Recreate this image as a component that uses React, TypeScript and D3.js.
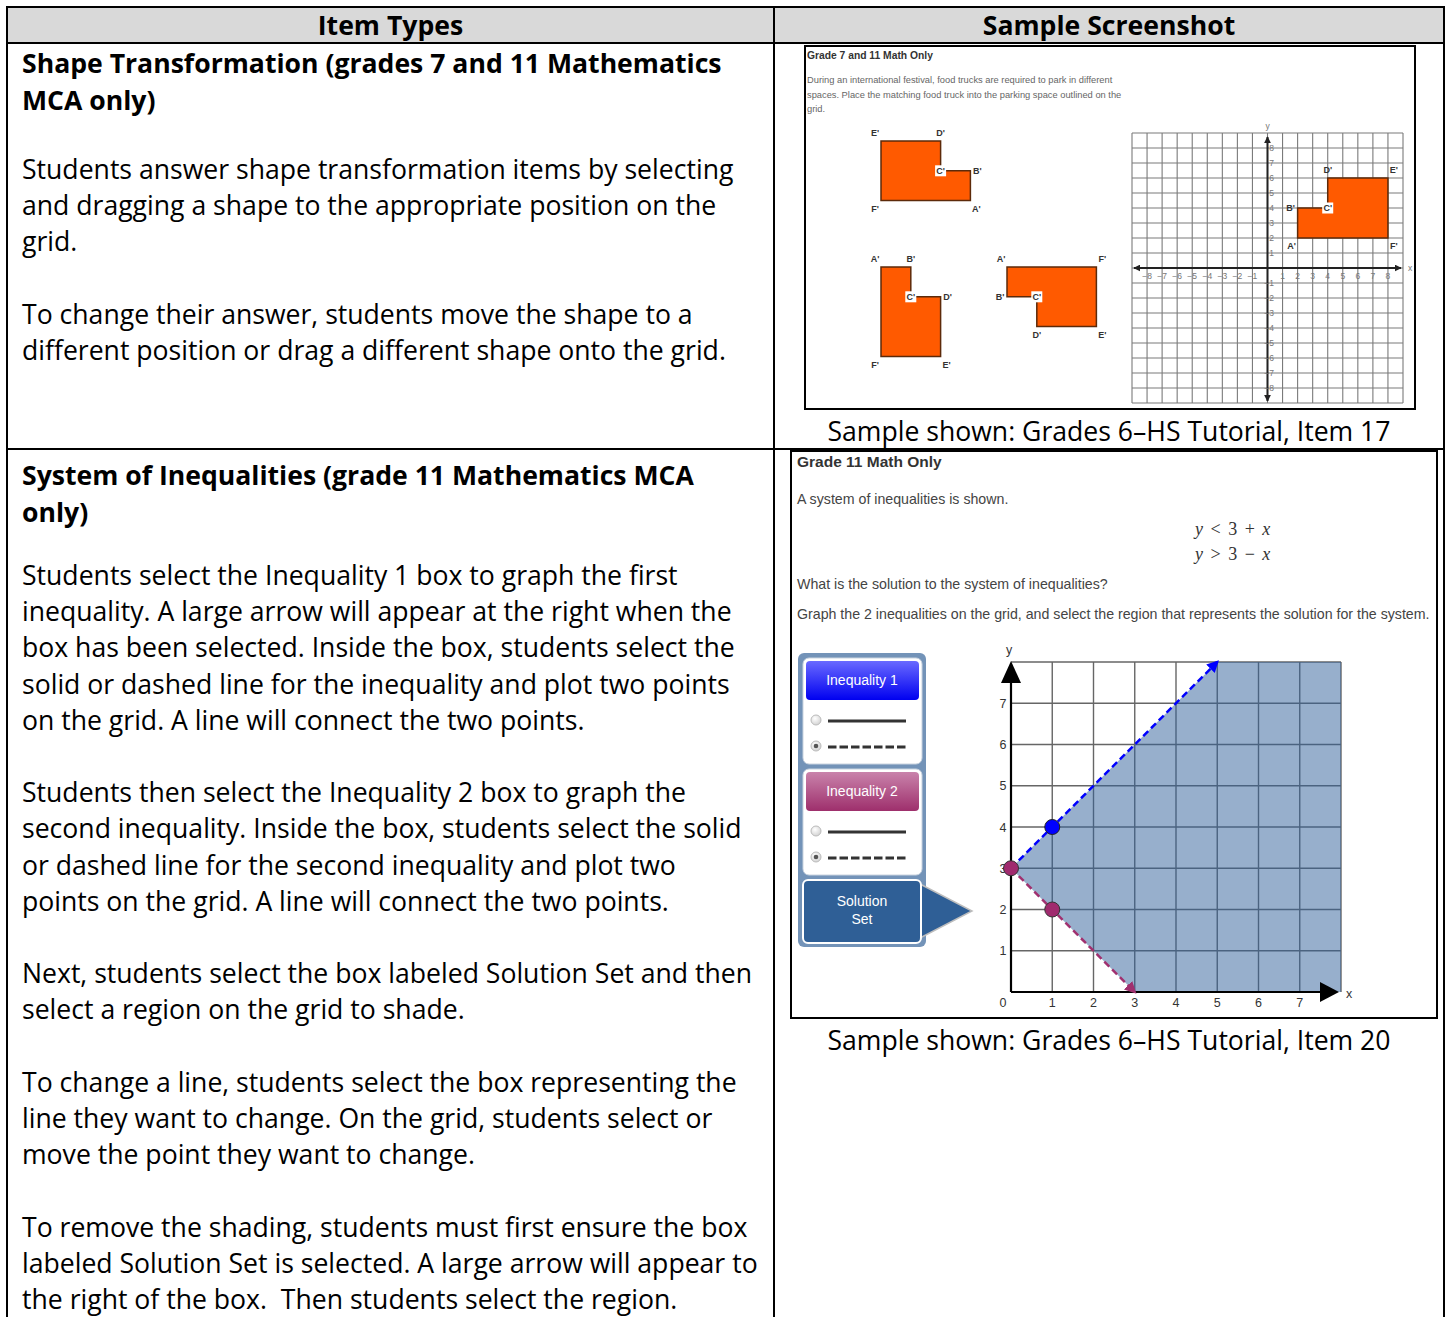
import * as d3 from "d3";

const headers = ["Item Types", "Sample Screenshot"];

const shapeTitle = ["Shape Transformation (grades 7 and 11 Mathematics", "MCA only)"];
const shapeParas = [
  [
    "Students answer shape transformation items by selecting",
    "and dragging a shape to the appropriate position on the",
    "grid.",
  ],
  [
    "To change their answer, students move the shape to a",
    "different position or drag a different shape onto the grid.",
  ],
];

const ineqTitle = ["System of Inequalities (grade 11 Mathematics MCA", "only)"];
const ineqParas = [
  [
    "Students select the Inequality 1 box to graph the first",
    "inequality. A large arrow will appear at the right when the",
    "box has been selected. Inside the box, students select the",
    "solid or dashed line for the inequality and plot two points",
    "on the grid. A line will connect the two points.",
  ],
  [
    "Students then select the Inequality 2 box to graph the",
    "second inequality. Inside the box, students select the solid",
    "or dashed line for the second inequality and plot two",
    "points on the grid. A line will connect the two points.",
  ],
  [
    "Next, students select the box labeled Solution Set and then",
    "select a region on the grid to shade.",
  ],
  [
    "To change a line, students select the box representing the",
    "line they want to change. On the grid, students select or",
    "move the point they want to change.",
  ],
  [
    "To remove the shading, students must first ensure the box",
    "labeled Solution Set is selected. A large arrow will appear to",
    "the right of the box.  Then students select the region.",
  ],
];

const captions = [
  "Sample shown: Grades 6\u2013HS Tutorial, Item 17",
  "Sample shown: Grades 6\u2013HS Tutorial, Item 20",
];

// ---- screenshot 1 : shape transformation
const shot1Title = "Grade 7 and 11 Math Only";
const shot1Prompt = [
  "During an international festival, food trucks are required to park in different",
  "spaces. Place the matching food truck into the parking space outlined on the",
  "grid.",
];

type Vertex = { label: string; x: number; y: number; side: string };

// palette shapes in square units, y downwards
const truck1: Vertex[] = [
  { label: "E'", x: 0, y: 0, side: "nw" },
  { label: "D'", x: 2, y: 0, side: "n" },
  { label: "C'", x: 2, y: 1, side: "c" },
  { label: "B'", x: 3, y: 1, side: "e" },
  { label: "A'", x: 3, y: 2, side: "se" },
  { label: "F'", x: 0, y: 2, side: "sw" },
];
const truck2: Vertex[] = [
  { label: "A'", x: 0, y: 0, side: "nw" },
  { label: "B'", x: 1, y: 0, side: "n" },
  { label: "C'", x: 1, y: 1, side: "c" },
  { label: "D'", x: 2, y: 1, side: "e" },
  { label: "E'", x: 2, y: 3, side: "se" },
  { label: "F'", x: 0, y: 3, side: "sw" },
];
const truck3: Vertex[] = [
  { label: "A'", x: 0, y: 0, side: "nw" },
  { label: "F'", x: 3, y: 0, side: "ne" },
  { label: "E'", x: 3, y: 2, side: "se" },
  { label: "D'", x: 1, y: 2, side: "s" },
  { label: "C'", x: 1, y: 1, side: "c" },
  { label: "B'", x: 0, y: 1, side: "w" },
];
// truck placed on the coordinate grid (y up)
const parkedTruck: Vertex[] = [
  { label: "A'", x: 2, y: 2, side: "sw" },
  { label: "B'", x: 2, y: 4, side: "w" },
  { label: "C'", x: 4, y: 4, side: "c" },
  { label: "D'", x: 4, y: 6, side: "n" },
  { label: "E'", x: 8, y: 6, side: "ne" },
  { label: "F'", x: 8, y: 2, side: "se" },
];
const grid1Lines = [-9, -8, -7, -6, -5, -4, -3, -2, -1, 0, 1, 2, 3, 4, 5, 6, 7, 8, 9];
const grid1Ticks = [-8, -7, -6, -5, -4, -3, -2, -1, 1, 2, 3, 4, 5, 6, 7, 8];

// ---- screenshot 2 : system of inequalities
const shot2Title = "Grade 11 Math Only";
const shot2Intro = "A system of inequalities is shown.";
const inequalityRows = [
  ["y", " < 3 + ", "x"],
  ["y", " > 3 \u2212 ", "x"],
];
const shot2Question = "What is the solution to the system of inequalities?";
const shot2Instruction =
  "Graph the 2 inequalities on the grid, and select the region that represents the solution for the system.";
const panelButtons = ["Inequality 1", "Inequality 2"];
const solutionLabel = ["Solution", "Set"];

const ineq1Points: [number, number][] = [[0, 3], [1, 4]];
const ineq1Line: [number, number][] = [[0, 3], [5, 8]];
const ineq2Points: [number, number][] = [[0, 3], [1, 2]];
const ineq2Line: [number, number][] = [[0, 3], [3, 0]];
const solutionRegion: [number, number][] = [[0, 3], [5, 8], [8, 8], [8, 0], [3, 0]];
const grid2Lines = [1, 2, 3, 4, 5, 6, 7, 8];
const grid2Ticks = [1, 2, 3, 4, 5, 6, 7];

const OPEN = "'Open Sans', sans-serif";
const ARIAL = "'Liberation Sans', Arial, sans-serif";
const SERIF = "'Liberation Serif', 'DejaVu Serif', serif";
const BODY = 26.6;

const sideOffset: Record<string, [number, number]> = {
  n: [0, -8],
  s: [0, 8],
  e: [7, 0],
  w: [-7, 0],
  ne: [6, -8],
  nw: [-6, -8],
  se: [6, 8],
  sw: [-6, 8],
  c: [0, 0],
};

const Truck = ({
  verts,
  px,
  py,
}: {
  verts: Vertex[];
  px: (v: number) => number;
  py: (v: number) => number;
}) => {
  const line = d3
    .line<Vertex>()
    .x((d) => px(d.x))
    .y((d) => py(d.y));
  return (
    <g>
      <path d={line(verts) + "Z"} fill="#ff5a00" stroke="#5c2a0a" strokeWidth={1.5} />
      {verts.map((v, i) => {
        const [dx, dy] = sideOffset[v.side];
        const cx = px(v.x) + dx;
        const cy = py(v.y) + dy;
        return (
          <g key={i}>
            {v.side === "c" && (
              <rect x={cx - 5.5} y={cy - 5.5} width={11} height={11} fill="#fff" />
            )}
            <text
              x={cx}
              y={cy + 3.3}
              textAnchor="middle"
              fontFamily={ARIAL}
              fontWeight="bold"
              fontSize={9}
              fill="#333"
            >
              {v.label}
            </text>
          </g>
        );
      })}
    </g>
  );
};

const TextBlock = ({
  title,
  paras,
  titleY,
  paraY,
}: {
  title: string[];
  paras: string[][];
  titleY: number;
  paraY: number;
}) => {
  const lh = 36.2;
  let y = paraY;
  const items: { t: string; y: number }[] = [];
  paras.forEach((p) => {
    p.forEach((t) => {
      items.push({ t, y });
      y += lh;
    });
    y += lh;
  });
  return (
    <g fontFamily={OPEN} fontSize={BODY} fill="#000">
      {title.map((t, i) => (
        <text key={"t" + i} x={22} y={titleY + i * 36.8} fontWeight="bold">
          {t}
        </text>
      ))}
      {items.map((d, i) => (
        <text key={i} x={22} y={d.y} xmlSpace="preserve" style={{ whiteSpace: "pre" }}>
          {d.t}
        </text>
      ))}
    </g>
  );
};

const App = () => {
  const W = 1447;
  const H = 1317;
  const colX = [7, 774, 1444];

  // palette scale (one square = 29.8px)
  const unit = 29.8;
  const palette = [
    { verts: truck1, ox: 881, oy: 141 },
    { verts: truck2, ox: 881, oy: 267 },
    { verts: truck3, ox: 1007, oy: 267 },
  ];

  // grid 1
  const gx1 = d3.scaleLinear().domain([-9, 9]).range([1132, 1403]);
  const gy1 = d3.scaleLinear().domain([-9, 9]).range([403, 133]);

  // grid 2
  const gx2 = d3.scaleLinear().domain([0, 8]).range([1011, 1341]);
  const gy2 = d3.scaleLinear().domain([0, 8]).range([992, 662]);
  const line2 = d3
    .line<[number, number]>()
    .x((d) => gx2(d[0]))
    .y((d) => gy2(d[1]));

  const radios = (top: number) => (
    <g>
      <circle cx={816} cy={top} r={5} fill="url(#radio)" stroke="#bbb" />
      <line x1={828} x2={906} y1={top + 1} y2={top + 1} stroke="#333" strokeWidth={3} />
      <circle cx={816} cy={top + 26} r={5} fill="url(#radio)" stroke="#bbb" />
      <circle cx={816} cy={top + 26} r={2.3} fill="#555" />
      <line
        x1={828}
        x2={906}
        y1={top + 27}
        y2={top + 27}
        stroke="#333"
        strokeWidth={3}
        strokeDasharray="8.5,3"
      />
    </g>
  );

  return (
    <svg
      width={W}
      height={H}
      style={{ position: "absolute", left: 0, top: 0, background: "#fff" }}
    >
      <defs>
        <linearGradient id="btnBlue" x1="0" x2="0" y1="0" y2="1">
          <stop offset="0" stopColor="#6a6aff" />
          <stop offset="1" stopColor="#0000f0" />
        </linearGradient>
        <linearGradient id="btnPink" x1="0" x2="0" y1="0" y2="1">
          <stop offset="0" stopColor="#c983ab" />
          <stop offset="1" stopColor="#9e2f6c" />
        </linearGradient>
        <radialGradient id="radio" cx="0.4" cy="0.35" r="0.7">
          <stop offset="0" stopColor="#fff" />
          <stop offset="1" stopColor="#d0d0d0" />
        </radialGradient>
        <marker
          id="ax1"
          viewBox="0 0 10 10"
          refX={9}
          refY={5}
          markerWidth={7}
          markerHeight={7}
          markerUnits="userSpaceOnUse"
          orient="auto-start-reverse"
        >
          <path d="M0,0L10,5L0,10Z" fill="#222" />
        </marker>
        <marker
          id="arrBlue"
          viewBox="0 0 10 10"
          refX={8}
          refY={5}
          markerWidth={12}
          markerHeight={12}
          markerUnits="userSpaceOnUse"
          orient="auto"
        >
          <path d="M0,0L10,5L0,10Z" fill="#0000ff" />
        </marker>
        <marker
          id="arrPink"
          viewBox="0 0 10 10"
          refX={8}
          refY={5}
          markerWidth={12}
          markerHeight={12}
          markerUnits="userSpaceOnUse"
          orient="auto"
        >
          <path d="M0,0L10,5L0,10Z" fill="#a0306f" />
        </marker>
      </defs>

      {/* table */}
      <rect x={colX[0]} y={7} width={colX[2] - colX[0]} height={36} fill="#d9d9d9" />
      {headers.map((h, i) => (
        <text
          key={h}
          x={(colX[i] + colX[i + 1]) / 2}
          y={35}
          textAnchor="middle"
          fontFamily={OPEN}
          fontWeight="bold"
          fontSize={BODY}
        >
          {h}
        </text>
      ))}
      <g stroke="#000" strokeWidth={2}>
        <line x1={colX[0]} x2={colX[2]} y1={7} y2={7} />
        <line x1={colX[0]} x2={colX[2]} y1={43} y2={43} />
        <line x1={colX[0]} x2={colX[2]} y1={449} y2={449} />
        {colX.map((x) => (
          <line key={x} x1={x} x2={x} y1={6} y2={H} />
        ))}
      </g>

      <TextBlock title={shapeTitle} paras={shapeParas} titleY={73} paraY={179} />
      <TextBlock title={ineqTitle} paras={ineqParas} titleY={485} paraY={585} />

      {/* screenshot 1 */}
      <rect x={805} y={46} width={610} height={363} fill="#fff" stroke="#000" strokeWidth={2} />
      <text x={807} y={59} fontFamily={ARIAL} fontWeight="bold" fontSize={10.3} fill="#333">
        {shot1Title}
      </text>
      {shot1Prompt.map((t, i) => (
        <text key={i} x={807} y={83 + i * 14.7} fontFamily={ARIAL} fontSize={9.3} fill="#666">
          {t}
        </text>
      ))}
      {palette.map((p, i) => (
        <Truck
          key={i}
          verts={p.verts}
          px={(v) => p.ox + v * unit}
          py={(v) => p.oy + v * unit}
        />
      ))}

      <g stroke="#7a7a7a" strokeWidth={1.1}>
        {grid1Lines.map((v) => (
          <line key={"v" + v} x1={gx1(v)} x2={gx1(v)} y1={gy1(-9)} y2={gy1(9)} />
        ))}
        {grid1Lines.map((v) => (
          <line key={"h" + v} x1={gx1(-9)} x2={gx1(9)} y1={gy1(v)} y2={gy1(v)} />
        ))}
      </g>
      <Truck verts={parkedTruck} px={gx1} py={gy1} />
      <g stroke="#222" strokeWidth={2}>
        <line
          x1={gx1(-9) + 2}
          x2={gx1(9) - 2}
          y1={gy1(0)}
          y2={gy1(0)}
          markerStart="url(#ax1)"
          markerEnd="url(#ax1)"
        />
        <line
          x1={gx1(0)}
          x2={gx1(0)}
          y1={gy1(9) + 4}
          y2={gy1(-9) - 2}
          markerStart="url(#ax1)"
          markerEnd="url(#ax1)"
        />
      </g>
      <g fontFamily={ARIAL} fontSize={8.5} fill="#777">
        {grid1Ticks.map((t) => (
          <text key={"x" + t} x={gx1(t)} y={gy1(0) + 11} textAnchor="middle">
            {t < 0 ? "\u2212" + -t : t}
          </text>
        ))}
        {grid1Ticks.map((t) => (
          <text key={"y" + t} x={gx1(0) + 6.5} y={gy1(t) + 3} textAnchor="end">
            {t < 0 ? "\u2212" + -t : t}
          </text>
        ))}
        <text x={gx1(0)} y={gy1(9) - 4} textAnchor="middle">
          y
        </text>
        <text x={gx1(9) + 7} y={gy1(0) + 3} textAnchor="middle">
          x
        </text>
      </g>

      {/* screenshot 2 */}
      <rect x={791} y={451} width={646} height={567} fill="#fff" stroke="#000" strokeWidth={2} />
      <text x={797} y={467} fontFamily={ARIAL} fontWeight="bold" fontSize={15.5} fill="#333">
        {shot2Title}
      </text>
      <g fontFamily={ARIAL} fontSize={14.2} fill="#444">
        <text x={797} y={504}>
          {shot2Intro}
        </text>
        <text x={797} y={589}>
          {shot2Question}
        </text>
        <text x={797} y={619}>
          {shot2Instruction}
        </text>
      </g>
      <g fontFamily={SERIF} fontSize={18} fill="#333">
        {inequalityRows.map((r, i) => (
          <text
            key={i}
            x={1195}
            y={535 + i * 25}
            xmlSpace="preserve"
            style={{ whiteSpace: "pre" }}
            wordSpacing={3}
          >
            <tspan fontStyle="italic">{r[0]}</tspan>
            <tspan>{r[1]}</tspan>
            <tspan fontStyle="italic">{r[2]}</tspan>
          </text>
        ))}
      </g>

      {/* tool panel */}
      <rect x={798} y={653} width={128} height={294} rx={6} fill="#7393b8" />
      {panelButtons.map((b, i) => {
        const top = 658 + i * 111;
        return (
          <g key={b}>
            <rect x={803} y={top} width={119} height={106} rx={6} fill="#fff" stroke="#c9d3df" />
            <rect
              x={806}
              y={top + 3}
              width={113}
              height={39}
              rx={4}
              fill={i === 0 ? "url(#btnBlue)" : "url(#btnPink)"}
            />
            <text
              x={862}
              y={top + 27}
              textAnchor="middle"
              fontFamily={ARIAL}
              fontSize={14}
              fill="#fff"
            >
              {b}
            </text>
            {radios(top + 62)}
          </g>
        );
      })}
      <polygon points="920,884 972,911 920,938" fill="#2f5f96" stroke="#bdbdbd" strokeWidth={1.5} />
      <rect x={803} y={880} width={118} height={63} rx={5} fill="#2f5f96" stroke="#fff" strokeWidth={2} />
      {solutionLabel.map((t, i) => (
        <text
          key={t}
          x={862}
          y={906 + i * 18}
          textAnchor="middle"
          fontFamily={ARIAL}
          fontSize={14}
          fill="#fff"
        >
          {t}
        </text>
      ))}

      {/* grid 2 */}
      <g stroke="#666" strokeWidth={1.4}>
        {grid2Lines.map((v) => (
          <line key={"v" + v} x1={gx2(v)} x2={gx2(v)} y1={gy2(0)} y2={gy2(8)} />
        ))}
        {grid2Lines.map((v) => (
          <line key={"h" + v} x1={gx2(0)} x2={gx2(8)} y1={gy2(v)} y2={gy2(v)} />
        ))}
      </g>
      <path d={line2(solutionRegion) + "Z"} fill="#2f5f99" fillOpacity={0.5} />
      <g stroke="#000" strokeWidth={2.2}>
        <line x1={gx2(0)} x2={gx2(0)} y1={gy2(0)} y2={gy2(8) + 10} />
        <line x1={gx2(0)} x2={gx2(8) - 12} y1={gy2(0)} y2={gy2(0)} />
      </g>
      <path
        d={`M${gx2(0)},${gy2(8) - 1}L${gx2(0) - 10},${gy2(8) + 21}L${gx2(0) + 10},${gy2(8) + 21}Z`}
        fill="#000"
      />
      <path
        d={`M${gx2(8) - 2},${gy2(0)}L${gx2(8) - 21},${gy2(0) - 10}L${gx2(8) - 21},${gy2(0) + 10}Z`}
        fill="#000"
      />
      <path
        d={line2(ineq1Line) ?? ""}
        fill="none"
        stroke="#0000ff"
        strokeWidth={2.5}
        strokeDasharray="7,4"
        markerEnd="url(#arrBlue)"
      />
      <path
        d={line2(ineq2Line) ?? ""}
        fill="none"
        stroke="#a0306f"
        strokeWidth={2.5}
        strokeDasharray="7,4"
        markerEnd="url(#arrPink)"
      />
      <g fontFamily={ARIAL} fontSize={12.5} fill="#333">
        {grid2Ticks.map((t) => (
          <text key={"y" + t} x={gx2(0) - 8} y={gy2(t) + 4.5} textAnchor="middle">
            {t}
          </text>
        ))}
        {grid2Ticks.map((t) => (
          <text key={"x" + t} x={gx2(t)} y={gy2(0) + 15} textAnchor="middle">
            {t}
          </text>
        ))}
        <text x={gx2(0) - 8} y={gy2(0) + 15} textAnchor="middle">
          0
        </text>
        <text x={gx2(0) - 2} y={gy2(8) - 8} textAnchor="middle">
          y
        </text>
        <text x={gx2(8) + 8} y={gy2(0) + 6} textAnchor="middle">
          x
        </text>
      </g>
      {ineq1Points.slice(1).map((p, i) => (
        <circle key={"b" + i} cx={gx2(p[0])} cy={gy2(p[1])} r={7.5} fill="#0000ff" stroke="#222" />
      ))}
      {ineq2Points.map((p, i) => (
        <circle key={"p" + i} cx={gx2(p[0])} cy={gy2(p[1])} r={7.5} fill="#a02a6e" stroke="#333" />
      ))}

      {captions.map((c, i) => (
        <text
          key={c}
          x={(colX[1] + colX[2]) / 2}
          y={i === 0 ? 441 : 1050}
          textAnchor="middle"
          fontFamily={OPEN}
          fontSize={BODY}
        >
          {c}
        </text>
      ))}
    </svg>
  );
};

export default App;
